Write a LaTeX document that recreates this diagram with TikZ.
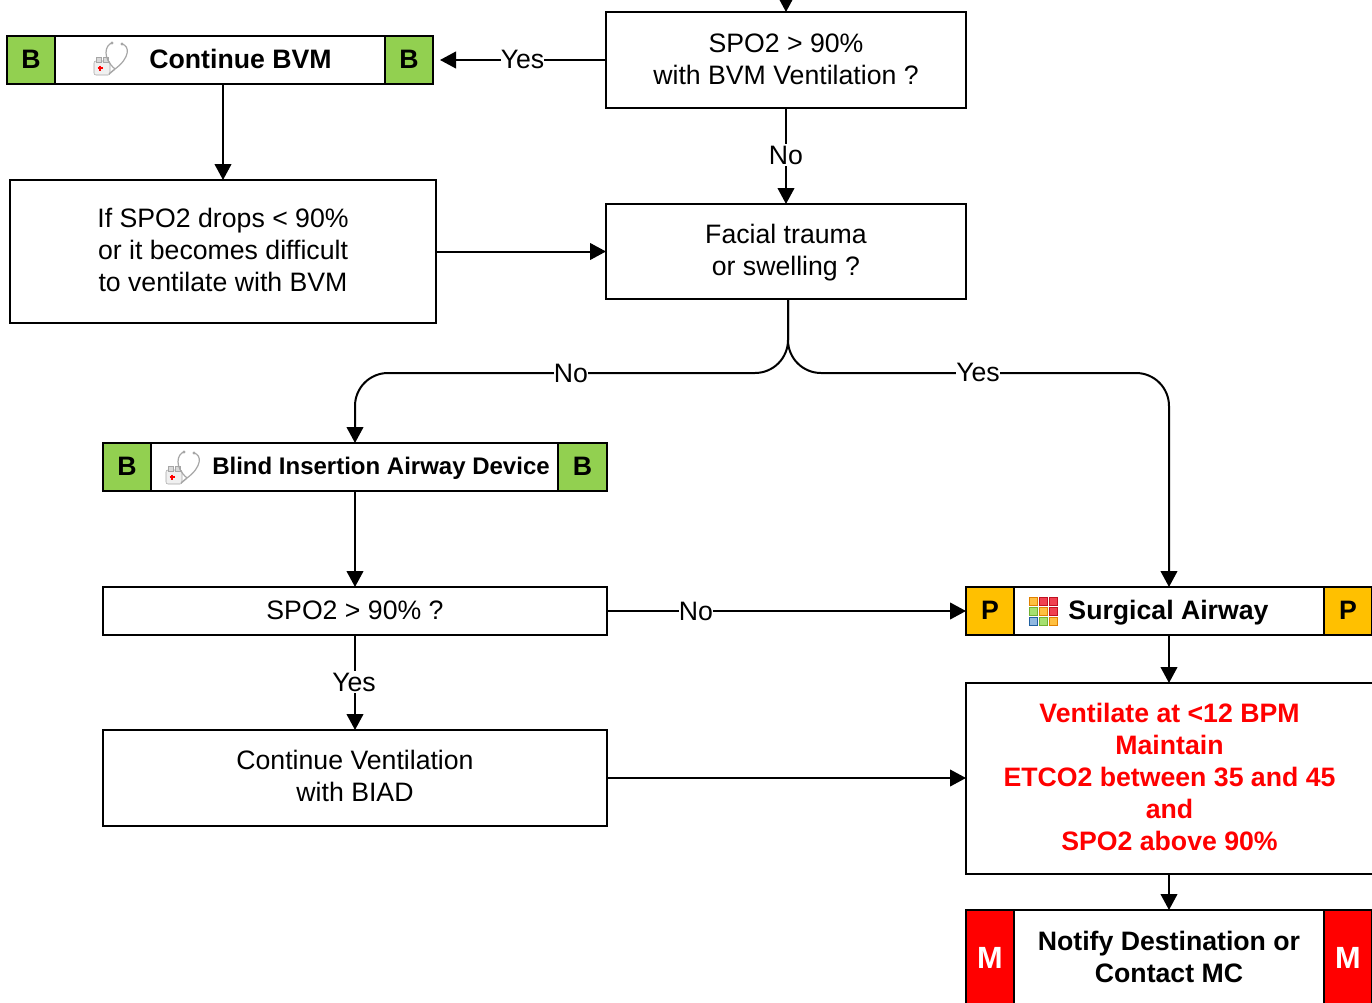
\documentclass[tikz,border=0pt]{standalone}
\usepackage{fontspec}
\setmainfont{Liberation Sans}
\usetikzlibrary{arrows.meta,calc}
\definecolor{tagB}{HTML}{92D050}
\definecolor{tagP}{HTML}{FFC000}
\definecolor{tagM}{HTML}{FF0000}
\definecolor{icO}{HTML}{FFC040}\definecolor{icOd}{HTML}{E08000}
\definecolor{icR}{HTML}{F04050}\definecolor{icRd}{HTML}{C01020}
\definecolor{icG}{HTML}{A5E070}\definecolor{icGd}{HTML}{70B030}
\definecolor{icB}{HTML}{90B8E0}\definecolor{icBd}{HTML}{2060A0}
\tikzset{
  every node/.style={font=\fontsize{20}{24}\selectfont,align=center,inner sep=0pt,outer sep=0pt},
  flowbox/.style={draw=black,line width=1.5pt,fill=white,text depth=3pt},
  boldtext/.style={font=\fontsize{20}{24}\selectfont\bfseries},
  smallbold/.style={font=\fontsize{18}{22}\selectfont\bfseries},
  redtext/.style={text=red,font=\fontsize{20}{24}\selectfont\bfseries},
  tagbox/.style={draw=black,line width=1.5pt,text depth=1.5pt,font=\fontsize{20}{24}\selectfont\bfseries},
  conn/.style={draw=black,line width=1.5pt,-{Triangle[length=12pt,width=12.5pt]}},
  edgelabel/.style={fill=white,inner xsep=0pt,inner ysep=1pt},
  pics/stetho/.style={code={
    \fill[gray!12,draw=gray!70,line width=.4pt,rounded corners=1.5pt] (1,21) rectangle (17,35);
    \fill[gray!30,draw=gray!70,line width=.4pt] (3,17) rectangle (8,22);
    \fill[gray!30,draw=gray!70,line width=.4pt] (10,17) rectangle (15,22);
    \draw[gray!70,line width=.9pt] (19,3) .. controls (12,5) and (9,18) .. (22,29);
    \draw[gray!70,line width=.9pt] (29,4) .. controls (37,6) and (37,18) .. (22,29);
    \draw[gray!70,line width=1.1pt] (22,29) -- (16,34);
    \fill[gray!70] (19,3) circle (1.6) (29,4) circle (1.6);
    \draw[red,line width=.9pt] (4.5,28) -- (9.5,28) (7,25.5) -- (7,30.5);
  }},
  pics/gridicon/.style={code={
    \foreach \c/\d/\i/\j in {icO/icOd/0/0,icR/icRd/1/0,icR/icRd/2/0,
                          icG/icGd/0/1,icO/icOd/1/1,icR/icRd/2/1,
                          icB/icBd/0/2,icG/icGd/1/2,icO/icOd/2/2}
      \filldraw[fill=\c,draw=\d,line width=.6pt] (\i*10,\j*10) rectangle ++(8,8);
  }}
}
\newcommand{\pbx}[7]{%
  \pgfmathsetmacro{\bw}{(#4-#2)*0.75}%
  \pgfmathsetmacro{\bh}{(#5-#3)*0.75}%
  \node[#6,anchor=north west,minimum width=\bw pt,minimum height=\bh pt] (#1) at (#2,#3) {#7};%
}
\begin{document}
\begin{tikzpicture}[x=0.75pt,y=-0.75pt]
\useasboundingbox (0,0) rectangle (1372,1003);
\clip (0,0) rectangle (1372,1003);
% boxes
\pbx{spoa}{606}{12}{966}{108}{flowbox,text depth=1.5pt}{SPO2 > 90\%\\with BVM Ventilation ?}
\pbx{bvm}{7}{36}{433}{84}{flowbox}{}
\pbx{bvmL}{7}{36}{55}{84}{tagbox,fill=tagB}{B}
\pbx{bvmR}{385}{36}{433}{84}{tagbox,fill=tagB}{B}
\node[boldtext] (bvmT) at (240.5,59) {Continue BVM};
\pic at (93,40) {stetho};
\pbx{drop}{10}{180}{436}{323}{flowbox}{If SPO2 drops < 90\%\\or it becomes difficult\\to ventilate with BVM}
\pbx{facial}{606}{204}{966}{299}{flowbox}{Facial trauma\\or swelling ?}
\pbx{biad}{103}{443}{607}{491}{flowbox}{}
\pbx{biadL}{103}{443}{151}{491}{tagbox,fill=tagB}{B}
\pbx{biadR}{558}{443}{607}{491}{tagbox,fill=tagB}{B}
\node[smallbold] (biadT) at (381,468.5) {Blind Insertion Airway Device};
\pic at (165,449) {stetho};
\pbx{spob}{103}{587}{607}{635}{flowbox,text depth=1.5pt}{SPO2 > 90\% ?}
\pbx{vent}{103}{730}{607}{826}{flowbox}{Continue Ventilation\\with BIAD}
\pbx{surg}{966}{587}{1372}{635}{flowbox}{}
\pbx{surgL}{966}{587}{1014}{635}{tagbox,fill=tagP}{P}
\pbx{surgR}{1324}{587}{1372}{635}{tagbox,fill=tagP}{P}
\node[boldtext] (surgT) at (1168.5,612.5) {Surgical Airway};
\pic at (1029,597) {gridicon};
\pbx{goal}{966}{683}{1373}{874}{flowbox,redtext}{Ventilate at <12 BPM\\Maintain\\ETCO2 between 35 and 45\\and\\SPO2 above 90\%}
\pbx{mc}{966}{910}{1372}{1012}{flowbox}{}
\pbx{mcL}{966}{910}{1014}{1012}{tagbox,fill=tagM,text=white,font=\fontsize{23}{24}\selectfont\bfseries}{\raisebox{3.5pt}{M}}
\pbx{mcR}{1324}{910}{1372}{1012}{tagbox,fill=tagM,text=white,font=\fontsize{23}{24}\selectfont\bfseries}{\raisebox{3.5pt}{M}}
\node[boldtext] (mcT) at (1169,957) {Notify Destination or\\Contact MC};
% connectors
\coordinate (topin) at (786,-20);
\draw[conn] (topin) -- (spoa.north);
\coordinate (yesend) at ($(bvmR.east)+(7,0)$);
\draw[conn] (spoa.west) -- (yesend);
\node[edgelabel] (l1) at (522.5,59.5) {Yes};
\draw[conn] (spoa.south) -- (facial.north);
\node[edgelabel] (l2) at (786,155) {No};
\draw[conn] (bvm.south -| drop.north) -- (drop.north);
\draw[conn] (drop.east |- facial.west) -- (facial.west);
\coordinate (fork) at (788,299);
\draw[conn,rounded corners=24.75pt] (fork) -- ++(0,74) -| (biad.north);
\draw[conn,rounded corners=24.75pt] (fork) -- ++(0,74) -| (surg.north);
\node[edgelabel] (l3) at (571,373) {No};
\node[edgelabel] (l4) at (978,372) {Yes};
\draw[conn] (biad.south) -- (spob.north);
\draw[conn] (spob.south) -- (vent.north);
\node[edgelabel] (l5) at (354,682) {Yes};
\draw[conn] (spob.east) -- (surgL.west);
\node[edgelabel] (l6) at (696,611) {No};
\draw[conn] (vent.east) -- (vent.east -| goal.west);
\draw[conn] (surg.south) -- (surg.south |- goal.north);
\draw[conn] (surg.south |- goal.south) -- (mc.north);
\end{tikzpicture}
\end{document}
